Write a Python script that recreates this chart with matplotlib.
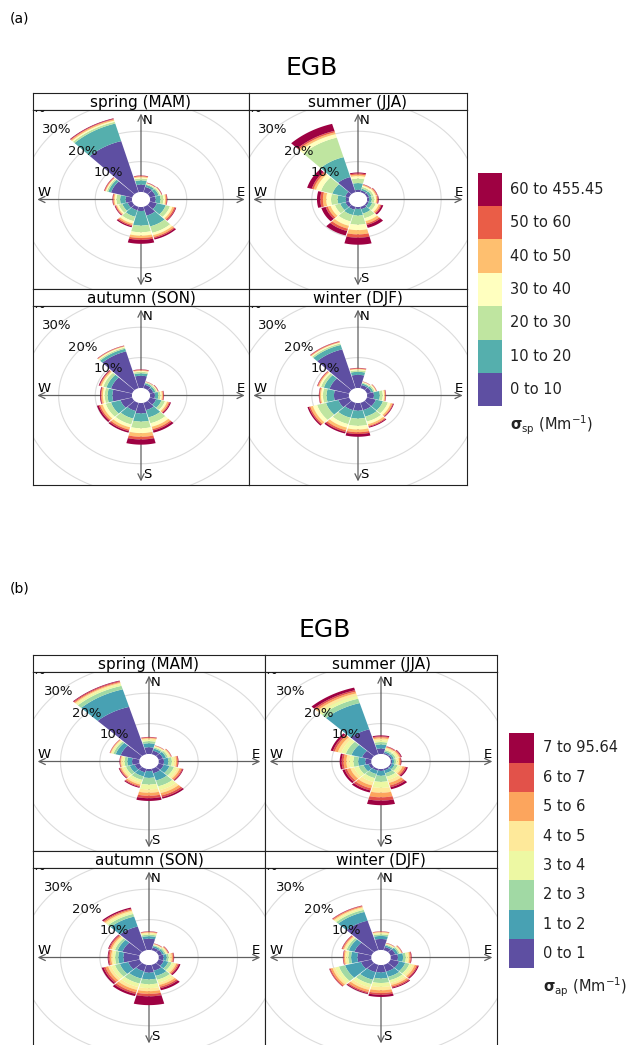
import numpy as np
import matplotlib.pyplot as plt

plt.rcParams['font.family'] = ['DejaVu Sans']

W, H = 636, 1045

directions = [0, 30, 60, 90, 120, 150, 180, 210, 240, 270, 300, 330]
seasons = ["spring (MAM)", "summer (JJA)", "autumn (SON)", "winter (DJF)"]
grid_pct = [10, 20, 30, 40]

sp_labels = ["0 to 10", "10 to 20", "20 to 30", "30 to 40", "40 to 50",
             "50 to 60", "60 to 455.45"]
sp_colors = ["#5E4FA2", "#55AFAD", "#BFE5A0", "#FFFFBF", "#FEBF6F",
             "#EA5D47", "#9E0142"]
ap_labels = ["0 to 1", "1 to 2", "2 to 3", "3 to 4", "4 to 5", "5 to 6",
             "6 to 7", "7 to 95.64"]
ap_colors = ["#5E4FA2", "#48A1B3", "#A1D9A4", "#EDF8A3", "#FEE99A",
             "#FCA55D", "#E2524A", "#9E0142"]

# frequency (%) per class, one row per wind sector (same order as directions)
sp_spring = [
    [2.4, 1.4, 0.6, 0.4, 0.3, 0.2, 0.1],
    [1.8, 0.7, 0.3, 0.2, 0.1, 0.1, 0.1],
    [1.6, 0.9, 0.4, 0.3, 0.1, 0.1, 0.1],
    [1.5, 1.3, 0.8, 0.5, 0.3, 0.2, 0.1],
    [2.0, 2.5, 1.2, 0.7, 0.5, 0.4, 0.2],
    [3.0, 3.7, 2.2, 0.8, 0.6, 0.4, 0.5],
    [1.3, 4.8, 2.2, 1.1, 0.8, 0.6, 1.3],
    [1.2, 2.2, 1.5, 0.8, 0.5, 0.4, 0.4],
    [1.3, 1.5, 1.0, 0.5, 0.3, 0.2, 0.2],
    [1.7, 1.5, 1.0, 0.5, 0.3, 0.2, 0.1],
    [6.0, 0.8, 0.4, 0.3, 0.2, 0.2, 0.1],
    [17.5, 6.0, 0.6, 0.4, 0.4, 0.2, 0.2],
]
sp_summer = [
    [0.7, 2.2, 1.5, 0.8, 0.5, 0.4, 0.3],
    [0.6, 0.6, 0.6, 0.4, 0.3, 0.1, 0.1],
    [0.6, 0.7, 0.6, 0.5, 0.3, 0.2, 0.1],
    [0.5, 0.7, 0.7, 0.5, 0.3, 0.2, 0.2],
    [0.5, 1.0, 1.0, 0.8, 0.5, 0.3, 0.5],
    [0.8, 1.5, 1.6, 1.0, 0.8, 0.5, 1.0],
    [0.6, 2.2, 3.0, 1.8, 1.4, 1.1, 2.3],
    [1.0, 1.8, 2.2, 1.5, 1.0, 0.8, 1.5],
    [1.0, 1.5, 1.5, 1.2, 0.8, 0.6, 1.2],
    [0.8, 2.2, 1.8, 1.3, 0.9, 0.7, 0.9],
    [1.1, 3.6, 3.2, 1.4, 0.7, 0.5, 1.3],
    [5.2, 6.8, 6.7, 1.2, 0.6, 0.5, 2.4],
]
sp_autumn = [
    [4.0, 0.8, 0.5, 0.3, 0.2, 0.2, 0.1],
    [1.2, 0.5, 0.3, 0.1, 0.1, 0.05, 0.05],
    [1.0, 0.6, 0.4, 0.2, 0.1, 0.1, 0.1],
    [1.3, 0.9, 0.6, 0.4, 0.3, 0.2, 0.1],
    [1.8, 1.5, 1.0, 0.6, 0.5, 0.3, 0.3],
    [2.5, 2.5, 2.0, 1.2, 0.8, 0.5, 0.7],
    [3.4, 2.7, 2.2, 1.6, 1.2, 0.9, 1.7],
    [2.8, 2.6, 2.0, 1.0, 0.8, 0.5, 0.5],
    [3.3, 2.7, 1.5, 0.9, 0.7, 0.4, 0.5],
    [5.3, 1.3, 0.8, 0.5, 0.4, 0.2, 0.2],
    [6.0, 1.3, 0.9, 0.5, 0.4, 0.2, 0.2],
    [12.6, 0.9, 0.4, 0.3, 0.2, 0.1, 0.1],
]
sp_winter = [
    [4.3, 1.0, 0.5, 0.3, 0.2, 0.2, 0.1],
    [1.1, 0.5, 0.3, 0.2, 0.1, 0.05, 0.05],
    [1.2, 0.6, 0.4, 0.3, 0.15, 0.1, 0.05],
    [1.8, 1.6, 0.8, 0.4, 0.3, 0.1, 0.1],
    [2.5, 2.0, 1.4, 0.8, 0.5, 0.2, 0.2],
    [2.5, 2.2, 1.7, 0.9, 0.6, 0.3, 0.3],
    [2.5, 2.6, 2.4, 1.2, 0.9, 0.6, 0.9],
    [2.5, 2.6, 2.2, 1.2, 0.9, 0.6, 0.5],
    [3.0, 3.5, 2.5, 1.2, 0.7, 0.4, 0.4],
    [4.0, 2.0, 1.0, 0.5, 0.3, 0.2, 0.1],
    [5.5, 1.6, 0.8, 0.5, 0.3, 0.2, 0.1],
    [13.3, 1.5, 0.5, 0.3, 0.2, 0.2, 0.1],
]

ap_spring = [
    [2.2, 1.3, 0.7, 0.5, 0.4, 0.2, 0.2, 0.1],
    [1.2, 0.7, 0.4, 0.3, 0.2, 0.1, 0.05, 0.05],
    [1.2, 0.8, 0.5, 0.4, 0.3, 0.15, 0.1, 0.05],
    [1.3, 1.1, 0.9, 0.6, 0.5, 0.3, 0.2, 0.1],
    [1.4, 1.5, 1.2, 0.9, 0.6, 0.5, 0.3, 0.2],
    [1.5, 2.5, 2.0, 1.3, 1.0, 0.8, 0.6, 0.5],
    [0.7, 2.2, 2.2, 1.6, 1.1, 1.0, 0.8, 0.9],
    [1.2, 1.4, 1.2, 0.9, 0.7, 0.5, 0.3, 0.3],
    [1.3, 1.3, 1.0, 0.7, 0.5, 0.3, 0.2, 0.2],
    [1.8, 1.2, 0.7, 0.5, 0.4, 0.2, 0.1, 0.1],
    [5.0, 1.3, 0.6, 0.4, 0.3, 0.15, 0.1, 0.05],
    [16.2, 6.0, 1.2, 0.6, 0.4, 0.3, 0.3, 0.2],
]
ap_summer = [
    [1.8, 1.3, 0.8, 0.6, 0.6, 0.4, 0.3, 0.3],
    [0.4, 0.5, 0.5, 0.4, 0.4, 0.2, 0.2, 0.1],
    [0.4, 0.5, 0.5, 0.5, 0.4, 0.3, 0.2, 0.2],
    [0.3, 0.5, 0.5, 0.4, 0.4, 0.3, 0.2, 0.1],
    [0.4, 0.7, 0.8, 0.7, 0.6, 0.6, 0.4, 0.4],
    [0.5, 1.0, 1.2, 1.1, 1.0, 0.9, 0.6, 0.7],
    [0.6, 1.6, 2.0, 2.0, 1.6, 1.5, 1.1, 1.5],
    [0.6, 1.2, 1.4, 1.3, 1.2, 1.0, 0.7, 0.7],
    [0.8, 1.3, 1.3, 1.2, 1.0, 0.9, 0.6, 0.6],
    [1.5, 1.8, 1.2, 1.0, 0.8, 0.7, 0.5, 0.5],
    [2.5, 2.8, 1.5, 1.2, 0.9, 0.8, 0.5, 0.6],
    [8.5, 9.0, 1.5, 1.0, 0.8, 0.6, 0.5, 0.9],
]
ap_autumn = [
    [3.7, 0.8, 0.5, 0.4, 0.3, 0.2, 0.1, 0.1],
    [0.9, 0.5, 0.3, 0.2, 0.15, 0.1, 0.1, 0.05],
    [1.0, 0.5, 0.4, 0.3, 0.2, 0.2, 0.1, 0.1],
    [1.2, 0.8, 0.5, 0.4, 0.4, 0.3, 0.2, 0.1],
    [1.4, 1.2, 0.9, 0.7, 0.5, 0.4, 0.3, 0.4],
    [2.0, 1.8, 1.3, 1.0, 0.8, 0.6, 0.5, 0.7],
    [2.5, 2.2, 1.6, 1.3, 1.0, 0.9, 0.8, 2.9],
    [2.2, 2.5, 1.7, 1.2, 1.0, 0.8, 0.6, 0.7],
    [3.0, 2.2, 1.3, 1.0, 0.8, 0.7, 0.5, 0.5],
    [4.0, 1.3, 0.8, 0.6, 0.4, 0.4, 0.3, 0.2],
    [4.5, 1.3, 0.7, 0.5, 0.4, 0.4, 0.3, 0.2],
    [8.1, 3.4, 0.9, 0.6, 0.5, 0.4, 0.3, 0.4],
]
ap_winter = [
    [3.6, 1.0, 0.5, 0.4, 0.3, 0.15, 0.1, 0.05],
    [1.1, 0.5, 0.3, 0.2, 0.2, 0.1, 0.05, 0.05],
    [1.3, 0.7, 0.4, 0.3, 0.2, 0.15, 0.1, 0.05],
    [1.8, 1.3, 0.7, 0.5, 0.4, 0.3, 0.2, 0.1],
    [2.3, 1.6, 1.1, 0.8, 0.6, 0.5, 0.3, 0.3],
    [2.3, 1.8, 1.2, 0.9, 0.7, 0.5, 0.4, 0.3],
    [2.4, 2.0, 1.5, 1.3, 1.1, 0.9, 0.6, 0.7],
    [2.5, 2.6, 1.5, 1.1, 0.9, 0.7, 0.4, 0.3],
    [2.8, 4.2, 1.6, 1.0, 0.7, 0.5, 0.3, 0.1],
    [3.5, 1.6, 0.7, 0.5, 0.4, 0.3, 0.1, 0.1],
    [4.5, 1.5, 0.6, 0.4, 0.3, 0.3, 0.2, 0.1],
    [10.1, 3.0, 0.7, 0.5, 0.4, 0.3, 0.2, 0.1],
]

RLIM = 29.5      # axis half range (percent units)
OFF = 2.5        # inner offset of bars
ARROW = 0.96 * RLIM
HALF = 14.3      # half width of a sector in degrees


def rect(x0, y0, x1, y1):
    return [x0 / W, 1 - y1 / H, (x1 - x0) / W, (y1 - y0) / H]


def draw_rose(fig, box, strip_h, freqs, colors, title):
    x0, y0, x1, y1 = box
    sax = fig.add_axes(rect(x0, y0, x1, y0 + strip_h))
    sax.set_xticks([])
    sax.set_yticks([])
    sax.text(0.5, 0.45, title, ha="center", va="center", fontsize=11,
             transform=sax.transAxes)
    ax = fig.add_axes(rect(x0, y0 + strip_h, x1, y1))
    ax.set_xlim(-RLIM, RLIM)
    ax.set_ylim(-RLIM, RLIM)
    ax.set_xticks([])
    ax.set_yticks([])
    for a in (sax, ax):
        for s in a.spines.values():
            s.set_linewidth(0.8)
            s.set_color("#222222")

    t = np.linspace(0, 2 * np.pi, 400)
    for g in grid_pct:
        r = g + OFF
        ax.plot(r * np.sin(t), r * np.cos(t), color="#DCDCDC", lw=0.8,
                zorder=1)

    arrow = dict(arrowstyle="<->,head_length=0.45,head_width=0.22",
                 color="#606060", lw=0.9, shrinkA=0, shrinkB=0)
    ax.annotate("", xy=(ARROW, 0), xytext=(-ARROW, 0), arrowprops=arrow,
                zorder=2)
    ax.annotate("", xy=(0, ARROW), xytext=(0, -ARROW), arrowprops=arrow,
                zorder=2)
    ax.fill(OFF * np.sin(t), OFF * np.cos(t), color="white", lw=0, zorder=3)

    for d, row in zip(directions, freqs):
        th = np.radians(np.linspace(d - HALF, d + HALF, 40))
        r0 = OFF
        for f, c in zip(row, colors):
            r1 = r0 + f
            xs = np.concatenate([r1 * np.sin(th), r0 * np.sin(th[::-1])])
            ys = np.concatenate([r1 * np.cos(th), r0 * np.cos(th[::-1])])
            ax.fill(xs, ys, color=c, lw=0, zorder=4)
            r0 = r1

    s45 = np.sin(np.pi / 4)
    for g in grid_pct:
        r = g + OFF
        ax.text(-r * s45, r * s45, f"{g}%", ha="center", va="center",
                fontsize=9.5, color="#111111", zorder=6, clip_on=True)

    ax.text(0.5, ARROW, "N", ha="left", va="top", fontsize=9.5, zorder=6)
    ax.text(0.5, -ARROW, "S", ha="left", va="bottom", fontsize=9.5, zorder=6)
    ax.text(ARROW, 0.3, "E", ha="right", va="bottom", fontsize=9.5, zorder=6)
    ax.text(-ARROW, 0.3, "W", ha="left", va="bottom", fontsize=9.5, zorder=6)


def draw_key(fig, x0, x1, y0, y1, labels, colors, text_x, title, title_y):
    kax = fig.add_axes(rect(x0, y0, x1, y1))
    n = len(labels)
    # first class at the bottom
    kax.bar([0.5] * n, [1] * n, bottom=np.arange(n), width=1,
            color=colors, lw=0)
    kax.set_xlim(0, 1)
    kax.set_ylim(0, n)
    kax.axis("off")
    step = (y1 - y0) / n
    for i, lab in enumerate(labels):
        yc = y1 - (i + 0.5) * step
        fig.text(text_x / W, 1 - yc / H, lab, ha="left", va="center",
                 fontsize=10.5, color="#222222")
    fig.text(text_x / W, 1 - title_y / H, title, ha="left", va="center",
             fontsize=10.5, color="#222222")


fig = plt.figure(figsize=(W / 100, H / 100), dpi=100)

# (a) scattering
fig.text(10 / W, 1 - 18 / H, "(a)", ha="left", va="center", fontsize=10)
fig.text(312 / W, 1 - 68 / H, "EGB", ha="center", va="center", fontsize=18)
sp_data = [sp_spring, sp_summer, sp_autumn, sp_winter]
cols_a = [(33, 249), (249, 467)]
rows_a = [(93, 289), (289, 485)]
for k, (season, data) in enumerate(zip(seasons, sp_data)):
    cx = cols_a[k % 2]
    ry = rows_a[k // 2]
    draw_rose(fig, (cx[0], ry[0], cx[1], ry[1]), 17, data, sp_colors, season)
draw_key(fig, 478, 502, 172.7, 406.3, sp_labels, sp_colors, 510,
         r"$\mathbf{\sigma}_{\rm sp}$ (Mm$^{-1}$)", 425)

# (b) absorption
fig.text(10 / W, 1 - 588 / H, "(b)", ha="left", va="center", fontsize=10)
fig.text(325 / W, 1 - 630 / H, "EGB", ha="center", va="center", fontsize=18)
ap_data = [ap_spring, ap_summer, ap_autumn, ap_winter]
cols_b = [(33, 265), (265, 497)]
rows_b = [(655, 851), (851, 1047)]
for k, (season, data) in enumerate(zip(seasons, ap_data)):
    cx = cols_b[k % 2]
    ry = rows_b[k // 2]
    draw_rose(fig, (cx[0], ry[0], cx[1], ry[1]), 17, data, ap_colors, season)
draw_key(fig, 509, 534, 733.3, 968.3, ap_labels, ap_colors, 543,
         r"$\mathbf{\sigma}_{\rm ap}$ (Mm$^{-1}$)", 987)

fig.savefig("out.png", dpi=100)
